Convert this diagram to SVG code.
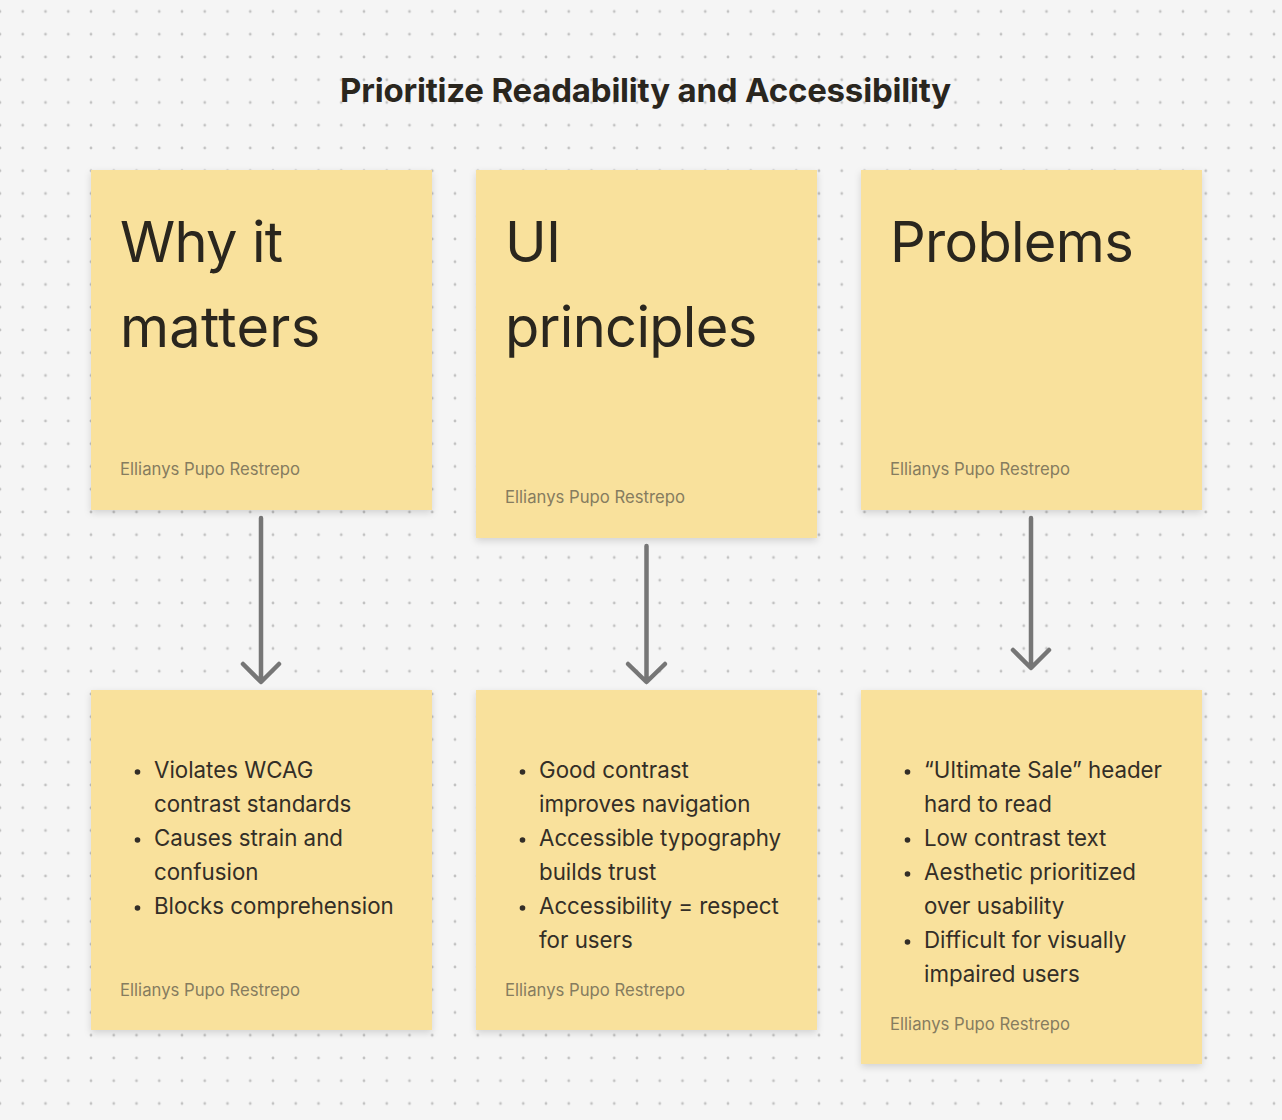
<svg xmlns="http://www.w3.org/2000/svg" width="1282" height="1120" viewBox="0 0 1282 1120">
  <defs>
    <pattern id="dots" x="0" y="11.5" width="22.75" height="22.75" patternUnits="userSpaceOnUse">
      <circle cx="0" cy="0" r="1.4" fill="#c2c2c2"/>
      <circle cx="22.75" cy="0" r="1.4" fill="#c2c2c2"/>
      <circle cx="0" cy="22.75" r="1.4" fill="#c2c2c2"/>
      <circle cx="22.75" cy="22.75" r="1.4" fill="#c2c2c2"/>
    </pattern>
    <filter id="shadow" x="-10%" y="-10%" width="120%" height="125%">
      <feDropShadow dx="0" dy="3" stdDeviation="3.5" flood-color="#000" flood-opacity="0.14"/>
    </filter>
    <style>
      .sticky { fill: #f9e19c; filter: url(#shadow); }
      .head { font-family: Inter, "Noto Sans", "Liberation Sans", sans-serif; font-size: 56px; fill: #2a261e; letter-spacing: -0.7px; }
      .title { font-family: Inter, "Noto Sans", "Liberation Sans", sans-serif; font-size: 33px; font-weight: 700; fill: #2a261e; letter-spacing: -0.2px; }
      .body { font-family: Inter, "Noto Sans", "Liberation Sans", sans-serif; font-size: 22.3px; fill: #332e27; }
      .author { font-family: Inter, "Noto Sans", "Liberation Sans", sans-serif; font-size: 16.7px; fill: #867c5f; }
      .bullet { fill: #332e27; }
      .conn { stroke: #767676; stroke-width: 4.5; fill: none; stroke-linecap: round; stroke-linejoin: round; }
    </style>
  </defs>
  <rect width="1282" height="1120" fill="#f5f5f5"/>
  <rect width="1282" height="1120" fill="url(#dots)"/>

  <text class="title" x="340" y="102">Prioritize Readability and Accessibility</text>

  <g id="note-why">
    <rect class="sticky" x="91" y="170" width="341" height="340"/>
    <text class="head" x="120" y="262">Why it</text>
    <text class="head" x="120" y="347" style="letter-spacing:0.3px">matters</text>
    <text class="author" x="120" y="475">Ellianys Pupo Restrepo</text>
  </g>
  <g id="note-ui">
    <rect class="sticky" x="476" y="170" width="341" height="368"/>
    <text class="head" x="505" y="262">UI</text>
    <text class="head" x="505" y="347">principles</text>
    <text class="author" x="505" y="503">Ellianys Pupo Restrepo</text>
  </g>
  <g id="note-problems">
    <rect class="sticky" x="861" y="170" width="341" height="340"/>
    <text class="head" x="890" y="262">Problems</text>
    <text class="author" x="890" y="475">Ellianys Pupo Restrepo</text>
  </g>

  <g id="note-why-details">
    <rect class="sticky" x="91" y="690" width="341" height="340"/>
    <circle class="bullet" cx="137.5" cy="772" r="2.8"/>
    <circle class="bullet" cx="137.5" cy="840" r="2.8"/>
    <circle class="bullet" cx="137.5" cy="908" r="2.8"/>
    <text class="body" x="154" y="778">Violates WCAG</text>
    <text class="body" x="154" y="812">contrast standards</text>
    <text class="body" x="154" y="846">Causes strain and</text>
    <text class="body" x="154" y="880">confusion</text>
    <text class="body" x="154" y="914">Blocks comprehension</text>
    <text class="author" x="120" y="996">Ellianys Pupo Restrepo</text>
  </g>
  <g id="note-ui-details">
    <rect class="sticky" x="476" y="690" width="341" height="340"/>
    <circle class="bullet" cx="522.5" cy="772" r="2.8"/>
    <circle class="bullet" cx="522.5" cy="840" r="2.8"/>
    <circle class="bullet" cx="522.5" cy="908" r="2.8"/>
    <text class="body" x="539" y="778">Good contrast</text>
    <text class="body" x="539" y="812">improves navigation</text>
    <text class="body" x="539" y="846">Accessible typography</text>
    <text class="body" x="539" y="880">builds trust</text>
    <text class="body" x="539" y="914">Accessibility = respect</text>
    <text class="body" x="539" y="948">for users</text>
    <text class="author" x="505" y="996">Ellianys Pupo Restrepo</text>
  </g>
  <g id="note-problems-details">
    <rect class="sticky" x="861" y="690" width="341" height="374"/>
    <circle class="bullet" cx="907.5" cy="772" r="2.8"/>
    <circle class="bullet" cx="907.5" cy="840" r="2.8"/>
    <circle class="bullet" cx="907.5" cy="874" r="2.8"/>
    <circle class="bullet" cx="907.5" cy="942" r="2.8"/>
    <text class="body" x="924" y="778">“Ultimate Sale” header</text>
    <text class="body" x="924" y="812">hard to read</text>
    <text class="body" x="924" y="846">Low contrast text</text>
    <text class="body" x="924" y="880">Aesthetic prioritized</text>
    <text class="body" x="924" y="914">over usability</text>
    <text class="body" x="924" y="948">Difficult for visually</text>
    <text class="body" x="924" y="982">impaired users</text>
    <text class="author" x="890" y="1030">Ellianys Pupo Restrepo</text>
  </g>

  <g id="connectors">
    <path class="conn" d="M261 518 V681 M243 664 L261 682 L279 664"/>
    <path class="conn" d="M646.5 546 V681 M628 664 L646.5 682 L665 664"/>
    <path class="conn" d="M1031 518 V667 M1013 650 L1031 668 L1049 650"/>
  </g>
</svg>
